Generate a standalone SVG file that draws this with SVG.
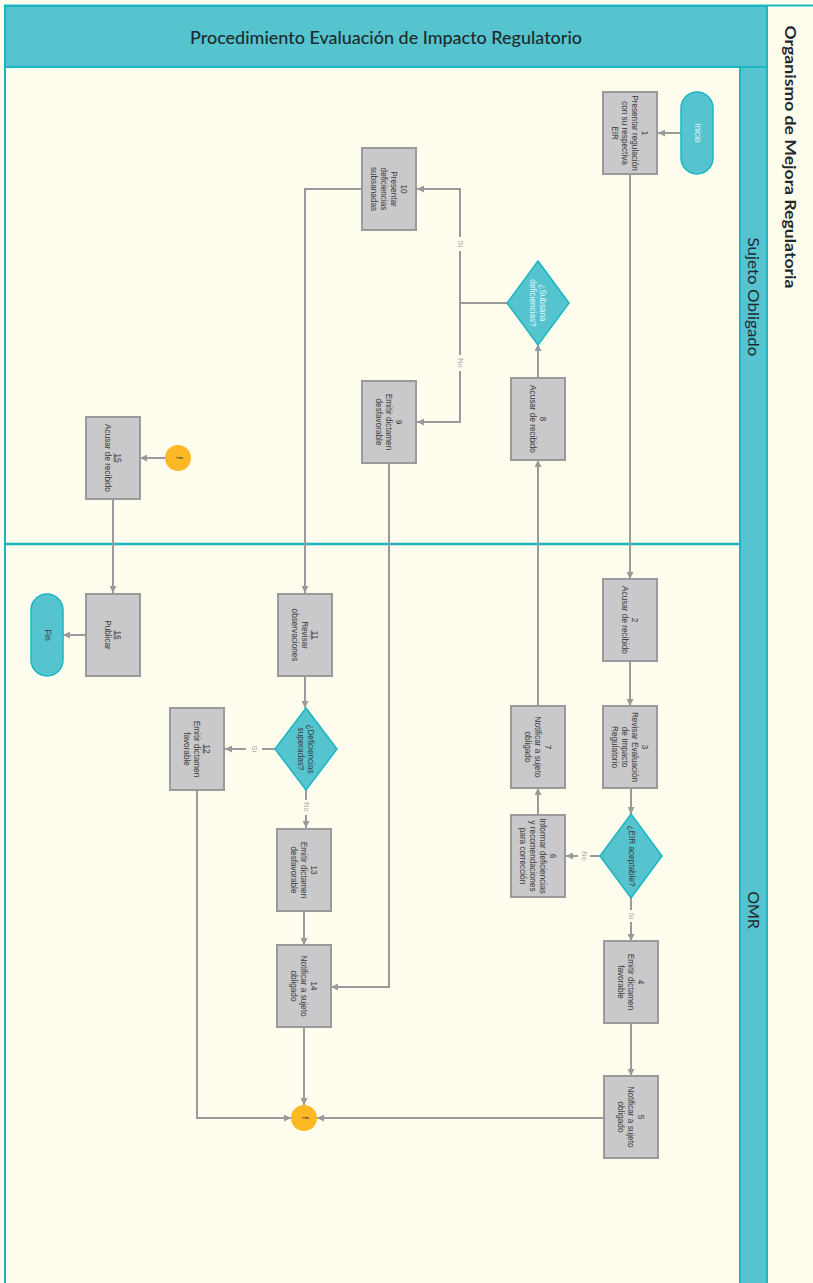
<svg xmlns="http://www.w3.org/2000/svg" width="813" height="1283" viewBox="0 0 813 1283">
<defs>
<style>
.bg{fill:#FFFDEE}
.teal{fill:#55C4CF;stroke:#1BB6C2;stroke-width:2}
.box{fill:#C9C9CB;stroke:#9A9A9C;stroke-width:2}
.dia{fill:#55C4CF;stroke:#1BB6C2;stroke-width:1.5}
.pill{fill:#55C4CF;stroke:#1BB6C2;stroke-width:1.5}
.conn{fill:#FDB924}
.t{font-family:"Liberation Sans",Arial,sans-serif;font-size:8.2px;fill:#3a3a3a;text-anchor:middle;dominant-baseline:central}
.tw{font-family:"Liberation Sans",Arial,sans-serif;font-size:8.2px;fill:#EAF8FA;text-anchor:middle;dominant-baseline:central}
.lbl{font-family:"Liberation Sans",Arial,sans-serif;font-size:7.5px;fill:#A8A8A8;text-anchor:middle;dominant-baseline:central}
.hd{font-family:Lato,"Open Sans",sans-serif;fill:#1f2a2c;text-anchor:middle;dominant-baseline:central}
.ln{fill:none;stroke:#9A9A9C;stroke-width:2}
.ul{stroke:#3a3a3a;stroke-width:0.7}
</style>
<marker id="ar" viewBox="0 0 10 10" refX="10" refY="5" markerWidth="7" markerHeight="7" markerUnits="userSpaceOnUse" orient="auto">
<path d="M0,0 L10,5 L0,10 z" fill="#9A9A9C"/>
</marker>
</defs>
<rect class="bg" x="0" y="0" width="813" height="1283"/>

<g id="frame">
<line x1="5" y1="66" x2="5" y2="1283" stroke="#1BB6C2" stroke-width="2"/>
<line x1="4" y1="5.5" x2="813" y2="5.5" stroke="#1BB6C2" stroke-width="2"/>
<rect class="teal" x="5" y="6" width="762" height="61"/>
<text class="hd" x="386" y="37" font-size="17" font-weight="500" textLength="392" lengthAdjust="spacingAndGlyphs">Procedimiento Evaluación de Impacto Regulatorio</text>
<line x1="767" y1="5" x2="767" y2="1283" stroke="#1BB6C2" stroke-width="2"/>
<text class="hd" transform="translate(791,157) rotate(90)" font-size="16" font-weight="bold" textLength="263" lengthAdjust="spacingAndGlyphs">Organismo de Mejora Regulatoria</text>
<rect class="teal" x="740" y="67" width="27" height="1220"/>
<line x1="5" y1="544" x2="740" y2="544" stroke="#1BB6C2" stroke-width="2.5"/>
<text class="hd" transform="translate(754,297) rotate(90)" font-size="16" textLength="119" lengthAdjust="spacingAndGlyphs">Sujeto Obligado</text>
<text class="hd" transform="translate(754,910) rotate(90)" font-size="16">OMR</text>
</g>

<g id="connectors">
<path class="ln" d="M681,133 H658" marker-end="url(#ar)"/>
<path class="ln" d="M630,174 V579" marker-end="url(#ar)"/>
<path class="ln" d="M630,662 V706" marker-end="url(#ar)"/>
<path class="ln" d="M631,788 V814" marker-end="url(#ar)"/>
<path class="ln" d="M600,856 H590"/>
<path class="ln" d="M578,856 H566" marker-end="url(#ar)"/>
<text class="lbl" transform="translate(584,856) rotate(90)">No</text>
<path class="ln" d="M631,898 V910"/>
<path class="ln" d="M631,922 V941" marker-end="url(#ar)"/>
<text class="lbl" transform="translate(631,916) rotate(90)">Sí</text>
<path class="ln" d="M631,1023 V1076" marker-end="url(#ar)"/>
<path class="ln" d="M604,1118 H317" marker-end="url(#ar)"/>
<path class="ln" d="M538,814 V788" marker-end="url(#ar)"/>
<path class="ln" d="M538,706 V460" marker-end="url(#ar)"/>
<path class="ln" d="M538,378 V344" marker-end="url(#ar)"/>
<path class="ln" d="M508,303 H460 V251"/>
<path class="ln" d="M460,237 V189 H417" marker-end="url(#ar)"/>
<text class="lbl" transform="translate(460,244) rotate(90)">Sí</text>
<path class="ln" d="M460,303 V355"/>
<path class="ln" d="M460,371 V422 H417" marker-end="url(#ar)"/>
<text class="lbl" transform="translate(460,363) rotate(90)">No</text>
<path class="ln" d="M362,189 H305 V593" marker-end="url(#ar)"/>
<path class="ln" d="M389,463 V987 H331" marker-end="url(#ar)"/>
<path class="ln" d="M305,677 V708" marker-end="url(#ar)"/>
<path class="ln" d="M275,749 H262"/>
<path class="ln" d="M246,749 H225" marker-end="url(#ar)"/>
<text class="lbl" transform="translate(254,749) rotate(90)">Sí</text>
<path class="ln" d="M306,790 V800"/>
<path class="ln" d="M306,815 V828" marker-end="url(#ar)"/>
<text class="lbl" transform="translate(306,807) rotate(90)">No</text>
<path class="ln" d="M304,912 V945" marker-end="url(#ar)"/>
<path class="ln" d="M304,1028 V1105" marker-end="url(#ar)"/>
<path class="ln" d="M197,791 V1118 H291" marker-end="url(#ar)"/>
<path class="ln" d="M165,458 H140" marker-end="url(#ar)"/>
<path class="ln" d="M113,499 V593" marker-end="url(#ar)"/>
<path class="ln" d="M86,635 H63" marker-end="url(#ar)"/>
</g>

<g id="inicio" transform="translate(697,133) rotate(90)">
<rect class="pill" x="-41" y="-16" width="82" height="32" rx="16"/>
<text class="tw" x="0" y="0">Inicio</text>
</g>
<g id="n1" transform="translate(630,133) rotate(90)">
<rect class="box" x="-41" y="-27" width="82" height="54"/>
<text class="t"><tspan x="0" y="-15">1</tspan><tspan x="0" y="-5">Presentar regulación</tspan><tspan x="0" y="5">con su respectiva</tspan><tspan x="0" y="15">EIR</tspan></text>
</g>
<g id="n2" transform="translate(630,620) rotate(90)">
<rect class="box" x="-41" y="-27" width="82" height="54"/>
<text class="t"><tspan x="0" y="-5">2</tspan><tspan x="0" y="5">Acusar de recibido</tspan></text>
</g>
<g id="n3" transform="translate(630,747) rotate(90)">
<rect class="box" x="-41" y="-27" width="82" height="54"/>
<text class="t"><tspan x="0" y="-15">3</tspan><tspan x="0" y="-5">Revisar Evaluación</tspan><tspan x="0" y="5">de Impacto</tspan><tspan x="0" y="15">Regulatorio</tspan></text>
</g>
<g id="d_eir" transform="translate(631,856) rotate(90)">
<polygon class="dia" points="-42,0 0,-31 42,0 0,31"/>
<text class="t" x="0" y="0" font-size="9" fill="#2a3a3c">¿EIR aceptable?</text>
</g>
<g id="n4" transform="translate(631,982) rotate(90)">
<rect class="box" x="-41" y="-27" width="82" height="54"/>
<text class="t"><tspan x="0" y="-10">4</tspan><tspan x="0" y="0">Emitir dictamen</tspan><tspan x="0" y="10">favorable</tspan></text>
</g>
<g id="n5" transform="translate(631,1117) rotate(90)">
<rect class="box" x="-41" y="-27" width="82" height="54"/>
<text class="t"><tspan x="0" y="-10">5</tspan><tspan x="0" y="0">Notificar a sujeto</tspan><tspan x="0" y="10">obligado</tspan></text>
</g>
<g id="n6" transform="translate(538,856) rotate(90)">
<rect class="box" x="-41" y="-27" width="82" height="54"/>
<text class="t"><tspan x="0" y="-15">6</tspan><tspan x="0" y="-5">Informar deficiencias</tspan><tspan x="0" y="5">y recomendaciones</tspan><tspan x="0" y="15">para corrección</tspan></text>
</g>
<g id="n7" transform="translate(538,747) rotate(90)">
<rect class="box" x="-41" y="-27" width="82" height="54"/>
<text class="t"><tspan x="0" y="-10">7</tspan><tspan x="0" y="0">Notificar a sujeto</tspan><tspan x="0" y="10">obligado</tspan></text>
</g>
<g id="n8" transform="translate(538,419) rotate(90)">
<rect class="box" x="-41" y="-27" width="82" height="54"/>
<text class="t"><tspan x="0" y="-5">8</tspan><tspan x="0" y="5">Acusar de recibido</tspan></text>
</g>
<g id="d_subsana" transform="translate(538,303) rotate(90)">
<polygon class="dia" points="-42,0 0,-31 42,0 0,31"/>
<text class="tw"><tspan x="0" y="-5">¿Subsana</tspan><tspan x="0" y="5">deficiencias?</tspan></text>
</g>
<g id="n9" transform="translate(389,422) rotate(90)">
<rect class="box" x="-41" y="-27" width="82" height="54"/>
<text class="t"><tspan x="0" y="-10">9</tspan><tspan x="0" y="0">Emitir dictamen</tspan><tspan x="0" y="10">desfavorable</tspan></text>
</g>
<g id="n10" transform="translate(389,189) rotate(90)">
<rect class="box" x="-41" y="-27" width="82" height="54"/>
<text class="t"><tspan x="0" y="-15">10</tspan><tspan x="0" y="-5">Presentar</tspan><tspan x="0" y="5">deficiencias</tspan><tspan x="0" y="15">subsanadas</tspan></text>
</g>
<g id="n11" transform="translate(305,635) rotate(90)">
<rect class="box" x="-41" y="-27" width="82" height="54"/>
<text class="t"><tspan x="0" y="-10">11</tspan><tspan x="0" y="0">Revisar</tspan><tspan x="0" y="10">observaciones</tspan></text>
<line class="ul" x1="-4.5" y1="-6.3" x2="4.5" y2="-6.3"/>
</g>
<g id="d_def" transform="translate(306,749) rotate(90)">
<polygon class="dia" points="-41,0 0,-31 41,0 0,31"/>
<text class="t"><tspan x="0" y="-5">¿Deficiencias</tspan><tspan x="0" y="5">superadas?</tspan></text>
</g>
<g id="n12" transform="translate(197,749) rotate(90)">
<rect class="box" x="-41" y="-27" width="82" height="54"/>
<text class="t"><tspan x="0" y="-10">12</tspan><tspan x="0" y="0">Emitir dictamen</tspan><tspan x="0" y="10">favorable</tspan></text>
<line class="ul" x1="-4.5" y1="-6.3" x2="4.5" y2="-6.3"/>
</g>
<g id="n13" transform="translate(304,870) rotate(90)">
<rect class="box" x="-41" y="-27" width="82" height="54"/>
<text class="t"><tspan x="0" y="-10">13</tspan><tspan x="0" y="0">Emitir dictamen</tspan><tspan x="0" y="10">desfavorable</tspan></text>
</g>
<g id="n14" transform="translate(304,986) rotate(90)">
<rect class="box" x="-41" y="-27" width="82" height="54"/>
<text class="t"><tspan x="0" y="-10">14</tspan><tspan x="0" y="0">Notificar a sujeto</tspan><tspan x="0" y="10">obligado</tspan></text>
</g>
<g id="f_bottom" transform="translate(304,1118) rotate(90)">
<circle class="conn" cx="0" cy="0" r="13"/>
<text class="t" x="0" y="0" font-size="7">f</text>
</g>
<g id="f_top" transform="translate(178,458) rotate(90)">
<circle class="conn" cx="0" cy="0" r="13"/>
<text class="t" x="0" y="0" font-size="7">f</text>
</g>
<g id="n15" transform="translate(113,458) rotate(90)">
<rect class="box" x="-41" y="-27" width="82" height="54"/>
<text class="t"><tspan x="0" y="-5">15</tspan><tspan x="0" y="5">Acusar de recibido</tspan></text>
<line class="ul" x1="-4.5" y1="-1.3" x2="4.5" y2="-1.3"/>
</g>
<g id="n16" transform="translate(113,635) rotate(90)">
<rect class="box" x="-41" y="-27" width="82" height="54"/>
<text class="t"><tspan x="0" y="-5">16</tspan><tspan x="0" y="5">Publicar</tspan></text>
<line class="ul" x1="-4.5" y1="-1.3" x2="4.5" y2="-1.3"/>
</g>
<g id="fin" transform="translate(47,635) rotate(90)">
<rect class="pill" x="-41" y="-16" width="82" height="32" rx="16"/>
<text class="t" x="0" y="0">Fin</text>
</g>
</svg>
